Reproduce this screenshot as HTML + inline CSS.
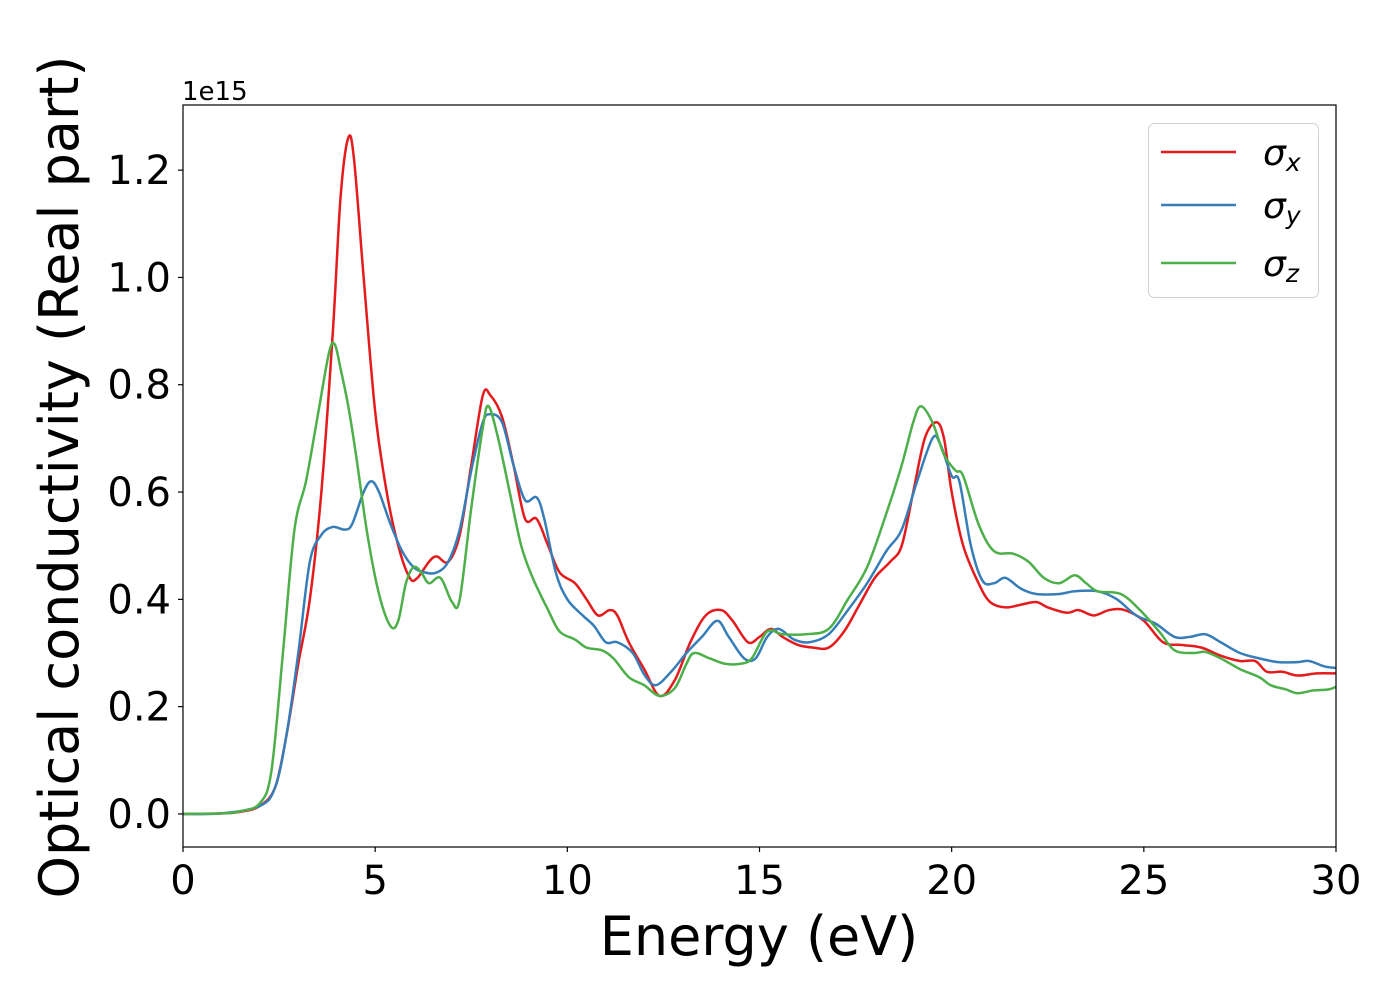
<!DOCTYPE html>
<html><head><meta charset="utf-8">
<style>
html,body{margin:0;padding:0;background:#fff;}
svg{display:block;font-family:"DejaVu Sans","Liberation Sans",sans-serif;}
</style></head>
<body>
<svg id="chart" width="1400" height="1000" viewBox="0 0 1400 1000" xmlns="http://www.w3.org/2000/svg">
<rect width="1400" height="1000" fill="#fff"/>
<g id="lines"></g>
<g id="axes"></g>
<text x="182" y="100" font-size="26">1e15</text>
<text x="759" y="955" font-size="54" text-anchor="middle">Energy (eV)</text>
<text transform="translate(78,477) rotate(-90)" font-size="54" text-anchor="middle">Optical conductivity (Real part)</text>
<g>
<rect x="1148.5" y="123.5" width="170" height="174" rx="6" fill="#fff" fill-opacity="0.8" stroke="#d0d0d0"/>
<g><line x1="1161" y1="152" x2="1236" y2="152" stroke="#e41a1c" stroke-width="2.5"/><text x="1263" y="165" font-size="36" font-style="italic">σ<tspan font-size="25" dy="6">x</tspan></text></g>
<g><line x1="1161" y1="205" x2="1236" y2="205" stroke="#377eb8" stroke-width="2.5"/><text x="1263" y="218" font-size="36" font-style="italic">σ<tspan font-size="25" dy="6">y</tspan></text></g>
<g><line x1="1161" y1="263" x2="1236" y2="263" stroke="#4daf4a" stroke-width="2.5"/><text x="1263" y="276" font-size="36" font-style="italic">σ<tspan font-size="25" dy="6">z</tspan></text></g>
</g>
</svg>
<script>
const xTicks=[0,5,10,15,20,25,30];
const yTicks=[0.0,0.2,0.4,0.6,0.8,1.0,1.2];
const yTickLabels=["0.0","0.2","0.4","0.6","0.8","1.0","1.2"];
const sxE=[0,1,1.5,2,2.4,2.7,3,3.3,3.6,3.9,4.1,4.3,4.45,4.7,5.0,5.3,5.6,5.9,6.1,6.4,6.6,6.9,7.2,7.5,7.8,8.0,8.3,8.6,8.9,9.2,9.5,9.8,10.2,10.5,10.8,11.1,11.3,11.6,12.0,12.4,12.8,13.2,13.6,14.0,14.3,14.7,15.0,15.3,15.6,16.0,16.4,16.8,17.2,17.6,18.0,18.4,18.7,19.0,19.3,19.6,19.8,20.0,20.3,20.7,21.0,21.4,21.8,22.2,22.5,23.0,23.3,23.7,24.1,24.5,25.0,25.5,26,26.5,27,27.5,27.9,28.2,28.6,29,29.5,30];
const sxV=[0,0.001,0.004,0.015,0.05,0.15,0.28,0.4,0.6,0.9,1.15,1.26,1.22,1.0,0.75,0.6,0.5,0.44,0.44,0.47,0.48,0.47,0.52,0.65,0.78,0.78,0.74,0.65,0.55,0.55,0.5,0.45,0.43,0.4,0.37,0.38,0.37,0.32,0.27,0.22,0.25,0.32,0.37,0.38,0.36,0.32,0.33,0.345,0.33,0.315,0.31,0.31,0.34,0.39,0.44,0.47,0.5,0.6,0.7,0.73,0.7,0.6,0.5,0.43,0.395,0.385,0.39,0.395,0.385,0.375,0.38,0.37,0.38,0.38,0.36,0.32,0.315,0.31,0.295,0.285,0.285,0.265,0.265,0.258,0.262,0.262];
const syE=[0,1,2,2.4,2.7,3.0,3.3,3.6,3.9,4.2,4.4,4.7,4.9,5.1,5.4,5.7,6.0,6.3,6.6,6.9,7.2,7.5,7.8,8.0,8.3,8.6,8.9,9.2,9.4,9.7,10.0,10.4,10.7,11.0,11.3,11.7,12.0,12.3,12.7,13.1,13.5,13.9,14.2,14.6,14.9,15.2,15.5,15.9,16.3,16.8,17.3,17.8,18.3,18.7,19.1,19.5,19.7,20.0,20.2,20.5,20.8,21.1,21.4,21.8,22.2,22.8,23.2,23.8,24.3,24.8,25.3,25.8,26.2,26.6,27.0,27.5,28,28.5,29,29.3,29.7,30];
const syV=[0,0.001,0.015,0.05,0.15,0.3,0.47,0.52,0.535,0.53,0.54,0.6,0.62,0.6,0.54,0.49,0.46,0.45,0.45,0.47,0.53,0.64,0.73,0.745,0.73,0.65,0.585,0.59,0.55,0.45,0.4,0.37,0.35,0.32,0.32,0.3,0.26,0.24,0.265,0.3,0.33,0.36,0.33,0.29,0.29,0.33,0.345,0.325,0.32,0.335,0.38,0.43,0.49,0.53,0.62,0.7,0.69,0.63,0.62,0.5,0.435,0.43,0.44,0.42,0.41,0.41,0.415,0.415,0.4,0.37,0.355,0.33,0.33,0.335,0.32,0.3,0.29,0.283,0.283,0.285,0.275,0.272];
const szE=[0,1,1.5,2,2.3,2.6,2.9,3.2,3.5,3.8,3.95,4.1,4.3,4.5,4.8,5.1,5.4,5.6,5.8,6.0,6.2,6.4,6.7,7.0,7.2,7.5,7.8,7.95,8.2,8.5,8.8,9.1,9.5,9.8,10.2,10.5,10.9,11.2,11.6,12.0,12.4,12.8,13.1,13.3,13.7,14.1,14.5,14.8,15.2,15.6,16.2,16.8,17.3,17.8,18.3,18.7,19.0,19.2,19.5,19.8,20.1,20.3,20.7,21.1,21.6,22.0,22.4,22.8,23.2,23.5,23.8,24.4,24.9,25.4,25.8,26.3,26.6,27.0,27.5,28,28.3,28.7,29,29.4,29.8,30];
const szV=[0,0.001,0.005,0.02,0.08,0.3,0.53,0.62,0.74,0.86,0.875,0.83,0.76,0.67,0.52,0.41,0.35,0.36,0.43,0.46,0.45,0.43,0.44,0.395,0.4,0.57,0.72,0.76,0.7,0.6,0.5,0.44,0.38,0.34,0.325,0.31,0.305,0.29,0.255,0.24,0.22,0.235,0.28,0.3,0.29,0.28,0.28,0.29,0.34,0.335,0.335,0.345,0.4,0.46,0.56,0.65,0.73,0.76,0.73,0.67,0.64,0.63,0.54,0.49,0.485,0.47,0.44,0.43,0.445,0.43,0.415,0.41,0.38,0.34,0.305,0.3,0.302,0.29,0.27,0.255,0.24,0.232,0.225,0.23,0.232,0.237];

const L=183,R=1336,T=105,B=847,xMin=0,xMax=30,yMin=-0.0616,yMax=1.3214;
const xs=v=>L+(v-xMin)/(xMax-xMin)*(R-L);
const ys=v=>B-(v-yMin)/(yMax-yMin)*(B-T);
const NS="http://www.w3.org/2000/svg";
function mk(tag,attrs,parent){const e=document.createElementNS(NS,tag);for(const k in attrs)e.setAttribute(k,attrs[k]);parent.appendChild(e);return e;}
function smooth(E,V){
  const p=E.map((e,i)=>[xs(e),ys(V[i])]);
  let d="M"+p[0][0].toFixed(2)+","+p[0][1].toFixed(2);
  for(let i=0;i<p.length-1;i++){
    const p0=p[Math.max(0,i-1)],p1=p[i],p2=p[i+1],p3=p[Math.min(p.length-1,i+2)];
    const c1=[p1[0]+(p2[0]-p0[0])/6,p1[1]+(p2[1]-p0[1])/6];
    const c2=[p2[0]-(p3[0]-p1[0])/6,p2[1]-(p3[1]-p1[1])/6];
    d+=" C"+c1[0].toFixed(2)+","+c1[1].toFixed(2)+" "+c2[0].toFixed(2)+","+c2[1].toFixed(2)+" "+p2[0].toFixed(2)+","+p2[1].toFixed(2);
  }
  return d;
}
const lines=document.getElementById('lines');
const clip=mk('clipPath',{id:'plotclip'},mk('defs',{},lines));
mk('rect',{x:L,y:T,width:R-L,height:B-T},clip);
const series=[[sxE,sxV,'#e41a1c','line-sigma-x'],[syE,syV,'#377eb8','line-sigma-y'],[szE,szV,'#4daf4a','line-sigma-z']];
series.forEach(s=>{
  const el=mk('path',{d:smooth(s[0],s[1]),fill:'none',stroke:s[2],'stroke-width':2.5,'stroke-linejoin':'round','clip-path':'url(#plotclip)'},lines);
  
  
});
const axes=document.getElementById('axes');
const frame=mk('rect',{x:L,y:T,width:R-L,height:B-T,fill:'none',stroke:'#000','stroke-width':1.2},axes);


xTicks.forEach(t=>{
  const g=mk('g',{},axes);
  
  
  mk('line',{x1:xs(t),y1:B,x2:xs(t),y2:B+5,stroke:'#000','stroke-width':1.2},g);
  const tx=mk('text',{x:xs(t),y:B+47,'font-size':40,'text-anchor':'middle'},g);
  tx.textContent=String(t);
});
yTicks.forEach((t,i)=>{
  const g=mk('g',{},axes);
  
  
  mk('line',{x1:L-5,y1:ys(t),x2:L,y2:ys(t),stroke:'#000','stroke-width':1.2},g);
  const tx=mk('text',{x:L-12,y:ys(t)+14,'font-size':40,'text-anchor':'end'},g);
  tx.textContent=yTickLabels[i];
});
</script>
</body></html>
